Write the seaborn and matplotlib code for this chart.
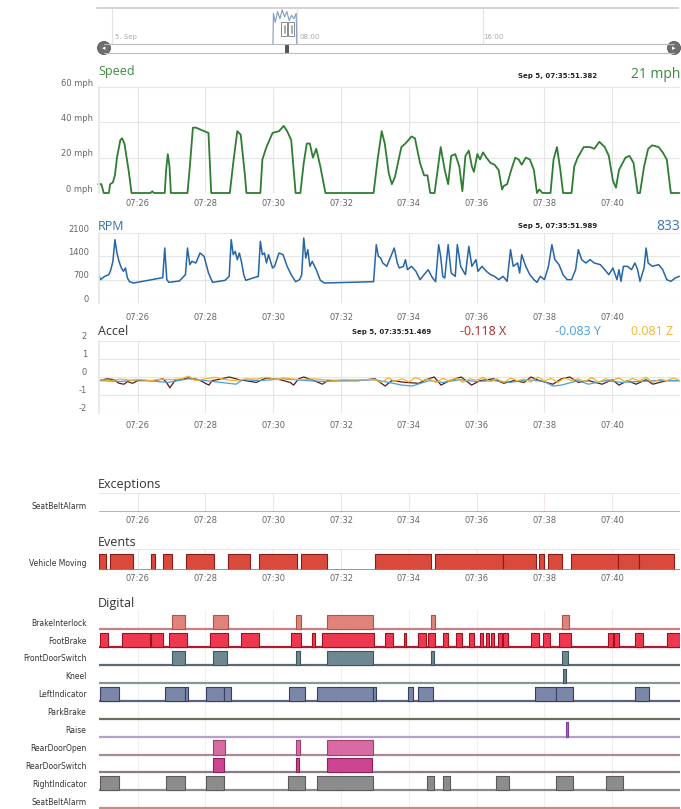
"""
Vehicle trip dashboard: speed, RPM, accelerometer plus event / digital input timelines.
Run: python plot.py
"""

import matplotlib
matplotlib.use("Agg")
import matplotlib.pyplot as plt
import matplotlib.transforms as mtransforms
from matplotlib.patches import Rectangle, Circle
import pandas as pd
import seaborn as sns

OUT = "out.png"
W, H = 681, 809

# time axis, minutes after 07:00 on Sep 5
T_MIN, T_MAX = 24.86, 42.0
TICK_MIN = [26, 28, 30, 32, 34, 36, 38, 40]
TICK_TEXT = ["07:26", "07:28", "07:30", "07:32", "07:34", "07:36", "07:38", "07:40"]

SPEED_T = [
    24.84, 24.93, 25.00, 25.15, 25.19, 25.27, 25.33, 25.39, 25.49, 25.54,
    25.61, 25.74, 25.82, 26.38, 26.43, 26.48, 26.80, 26.84, 26.89, 26.94,
    26.98, 27.47, 27.54, 27.63, 27.72, 27.96, 28.09, 28.17, 28.72, 28.82,
    28.94, 29.04, 29.16, 29.21, 29.62, 29.68, 29.80, 29.98, 30.17, 30.31,
    30.41, 30.53, 30.66, 30.80, 30.90, 30.99, 31.08, 31.17, 31.27, 31.39,
    31.54, 32.96, 33.08, 33.20, 33.29, 33.41, 33.50, 33.59, 33.78, 33.90,
    34.08, 34.18, 34.33, 34.45, 34.55, 34.63, 34.76, 34.94, 35.06, 35.16,
    35.25, 35.37, 35.49, 35.58, 35.67, 35.77, 35.86, 35.92, 36.02, 36.10,
    36.19, 36.29, 36.41, 36.53, 36.65, 36.75, 36.80, 36.90, 37.02, 37.14,
    37.24, 37.33, 37.45, 37.57, 37.69, 37.78, 37.85, 37.94, 38.18, 38.27,
    38.37, 38.47, 38.55, 38.80, 38.88, 38.98, 39.16, 39.35, 39.47, 39.62,
    39.78, 39.90, 40.02, 40.11, 40.20, 40.39, 40.51, 40.63, 40.75, 40.82,
    40.94, 41.06, 41.18, 41.37, 41.49, 41.61, 41.73, 41.98,
]
SPEED_MPH = [
    5, 5, 0, 0, 5, 6, 10, 20, 30, 31,
    28, 12, 0, 0, 1, 0, 0, 13, 22, 15,
    0, 0, 15, 37, 37, 35, 34, 0, 0, 17,
    35, 33, 11, 0, 0, 19, 26, 34, 35, 38,
    35, 30, 0, 0, 17, 28, 28, 20, 25, 15,
    0, 0, 19, 35, 28, 11, 5, 9, 26, 28,
    32, 31, 17, 10, 10, 0, 0, 26, 13, 5,
    21, 22, 15, 1, 21, 24, 15, 12, 22, 19,
    23, 20, 17, 16, 13, 2, 4, 5, 13, 20,
    19, 16, 20, 19, 13, 0, 2, 0, 0, 19,
    26, 13, 0, 0, 15, 20, 26, 26, 25, 29,
    26, 21, 7, 3, 13, 20, 21, 17, 0, 0,
    15, 25, 27, 26, 23, 19, 0, 0,
]

RPM_T = [
    24.84, 24.90, 25.03, 25.15, 25.21, 25.27, 25.33, 25.39, 25.45, 25.52,
    25.58, 25.64, 25.70, 25.76, 25.88, 26.74, 26.80, 26.86, 26.92, 27.23,
    27.41, 27.47, 27.54, 27.60, 27.72, 27.84, 27.96, 28.09, 28.21, 28.58,
    28.70, 28.76, 28.82, 28.88, 28.94, 29.00, 29.07, 29.13, 29.19, 29.31,
    29.56, 29.62, 29.68, 29.74, 29.80, 29.86, 29.92, 29.98, 30.04, 30.17,
    30.29, 30.41, 30.53, 30.66, 30.78, 30.84, 30.90, 30.96, 31.02, 31.08,
    31.15, 31.27, 31.39, 31.51, 32.96, 33.04, 33.10, 33.17, 33.23, 33.35,
    33.47, 33.57, 33.66, 33.72, 33.84, 33.90, 33.96, 34.08, 34.21, 34.33,
    34.45, 34.57, 34.70, 34.79, 34.88, 34.94, 35.00, 35.06, 35.16, 35.25,
    35.37, 35.43, 35.53, 35.61, 35.67, 35.77, 35.86, 35.98, 36.04, 36.16,
    36.29, 36.41, 36.53, 36.65, 36.78, 36.90, 37.00, 37.08, 37.21, 37.27,
    37.33, 37.45, 37.57, 37.69, 37.78, 37.88, 38.00, 38.12, 38.22, 38.31,
    38.43, 38.55, 38.67, 38.80, 38.92, 39.00, 39.10, 39.22, 39.35, 39.47,
    39.65, 39.78, 39.90, 40.02, 40.14, 40.20, 40.26, 40.33, 40.45, 40.57,
    40.67, 40.75, 40.82, 40.94, 41.00, 41.06, 41.18, 41.37, 41.49, 41.61,
    41.73, 41.86, 41.98,
]
RPM_VAL = [
    900, 700, 800, 850, 1000, 1250, 1900, 1500, 1250, 1050,
    950, 1050, 750, 640, 600, 760, 1650, 700, 620, 660,
    850, 1650, 1150, 1250, 1200, 1500, 1400, 900, 620, 680,
    800, 1900, 1450, 1550, 1300, 1500, 1200, 850, 680, 720,
    800, 1850, 1450, 1500, 1200, 1450, 1250, 1050, 1100, 1500,
    1450, 1100, 850, 640, 700, 850, 1950, 1350, 1600, 1100,
    1250, 1000, 680, 600, 640, 1750, 1400, 1350, 1200, 1100,
    1400, 1650, 1200, 1050, 1100, 1300, 1000, 1100, 950, 700,
    850, 1000, 750, 640, 1750, 1400, 800, 750, 1750, 900,
    800, 1750, 1100, 950, 850, 1700, 1100, 1300, 950, 1100,
    950, 850, 800, 700, 800, 650, 1600, 1100, 1200, 900,
    1450, 1100, 850, 700, 620, 800, 700, 1100, 1750, 1300,
    1150, 850, 700, 700, 1000, 1600, 1300, 1200, 1300, 1200,
    1150, 1000, 850, 1050, 700, 1000, 650, 1100, 1100, 1000,
    1200, 1000, 650, 1050, 1650, 1200, 1100, 1150, 1000, 700,
    650, 750, 800,
]

ACC_X_T = [
    24.86, 25.1, 25.3, 25.45, 25.6, 25.7, 25.85, 26.0,
    26.5, 26.75, 26.85, 26.95, 27.1, 27.5, 27.8, 28.1,
    28.2, 28.35, 28.7, 29.0, 29.5, 29.8, 30.2, 30.5,
    30.6, 30.75, 30.9, 31.2, 31.45, 31.6, 32.0, 32.5,
    33.0, 33.3, 33.5, 33.9, 34.3, 34.5, 34.75, 34.95,
    35.2, 35.55, 35.85, 36.1, 36.5, 36.8, 37.1, 37.4,
    37.6, 37.85, 38.25, 38.5, 38.75, 39.0, 39.3, 39.7,
    40.0, 40.2, 40.45, 40.7, 41.0, 41.2, 41.6, 42.0,
]
ACC_X = [
    -0.2, -0.1, -0.15, -0.35, -0.4, -0.25, -0.35, -0.2,
    -0.2, -0.1, -0.3, -0.6, -0.2, -0.05, -0.15, -0.45,
    -0.2, -0.15, 0.0, -0.15, -0.3, -0.05, -0.15, -0.3,
    -0.45, -0.1, 0.0, -0.2, -0.4, -0.2, -0.2, -0.2,
    -0.1, -0.5, -0.2, -0.3, -0.35, -0.15, 0.0, -0.45,
    -0.2, 0.0, -0.45, -0.2, -0.1, -0.35, -0.2, -0.3,
    0.0, -0.2, -0.4, -0.1, 0.0, -0.3, -0.2, -0.4,
    -0.15, -0.45, -0.2, -0.4, -0.15, -0.4, -0.2, -0.2,
]
ACC_Y_T = [
    24.86, 25.5, 26.0, 26.9, 27.5, 28.0, 28.9, 29.1, 29.6, 30.3,
    31.0, 31.5, 32.0, 32.5, 33.0, 33.4, 33.8, 34.1, 34.6, 35.0,
    35.5, 36.0, 36.5, 37.0, 37.5, 38.0, 38.25, 38.5, 39.0, 39.3,
    39.8, 40.3, 40.8, 41.3, 42.0,
]
ACC_Y = [
    -0.2, -0.25, -0.15, -0.3, -0.1, -0.2, -0.4, -0.15, -0.2, -0.1,
    -0.2, -0.25, -0.2, -0.2, -0.15, -0.3, -0.45, -0.5, -0.2, -0.3,
    -0.15, -0.25, -0.2, -0.3, -0.15, -0.25, -0.5, -0.45, -0.2, -0.4,
    -0.2, -0.3, -0.25, -0.2, -0.2,
]
ACC_Z_T = [
    24.9, 25.2, 25.5, 25.8, 26.1, 26.4, 26.7, 27.0, 27.3, 27.5,
    27.7, 28.0, 28.3, 28.6, 28.9, 29.2, 29.5, 29.8, 30.1, 30.3,
    30.6, 30.9, 31.2, 31.5, 31.8, 32.1, 32.4, 32.7,
    33.0, 33.2, 33.4, 33.6, 33.8, 34.0, 34.2, 34.4, 34.6, 34.8,
    35.0, 35.2, 35.4, 35.6, 35.8, 36.0, 36.2, 36.4, 36.6, 36.8,
    37.0, 37.2, 37.4, 37.6, 37.8, 38.0, 38.2, 38.4, 38.6, 38.8,
    39.0, 39.2, 39.4, 39.6, 39.8, 40.0, 40.2, 40.4, 40.6, 40.8,
    41.0, 41.2, 41.4, 41.6, 41.8, 42.0,
]
ACC_Z = [
    -0.15, -0.2, -0.12, -0.18, -0.15, -0.2, -0.12, -0.15, -0.1, 0.05,
    -0.2, -0.1, -0.02, -0.15, -0.2, -0.1, -0.12, -0.02, -0.15, -0.05,
    -0.12, -0.15, -0.1, -0.15, -0.18, -0.15, -0.16, -0.15,
    -0.15, -0.3, -0.05, -0.25, -0.1, -0.28, -0.02, -0.2, -0.12, -0.3,
    -0.08, -0.22, -0.05, -0.3, -0.1, -0.18, -0.02, -0.26, -0.1, -0.3,
    -0.06, -0.2, -0.12, -0.28, 0.0, -0.22, -0.08, -0.3, -0.04, -0.2,
    -0.1, -0.26, -0.02, -0.3, -0.1, -0.18, -0.05, -0.28, -0.08, -0.22,
    -0.02, -0.3, -0.12, -0.2, -0.06, -0.2,
]

# navigator overview: hours of the day vs relative level
NAV_HOURS = [6.95, 6.97, 7.05, 7.15, 7.25, 7.35, 7.45, 7.55, 7.65, 7.75, 7.85, 7.95, 7.98]
NAV_LEVEL = [0.0, 0.85, 0.6, 0.9, 0.7, 0.95, 0.75, 0.9, 0.65, 0.8, 0.7, 0.85, 0.0]

# on/off intervals (start, end) in minutes after 07:00
SEATBELT_EXC = []
VEHICLE_MOVING = [
    (24.86, 25.06), (25.17, 25.85), (26.39, 26.50), (26.76, 27.02), (27.42, 28.25),
    (28.68, 29.30), (29.58, 30.70), (30.83, 31.58), (32.99, 34.66), (34.76, 36.78),
    (36.78, 37.74), (37.84, 37.98), (38.12, 38.53), (38.78, 40.18), (40.18, 40.79),
    (40.79, 41.82),
]
BRAKE_INTERLOCK = [(27.00, 27.39), (28.22, 28.67), (30.66, 30.81), (31.58, 32.94),
                   (34.64, 34.76), (38.51, 38.74)]
FOOT_BRAKE = [
    (24.89, 25.14), (25.53, 26.36), (26.40, 26.75), (26.92, 27.45), (28.12, 28.67),
    (29.06, 29.59), (30.53, 30.81), (31.15, 31.22), (31.43, 32.97), (33.29, 33.52),
    (33.87, 33.93), (34.28, 34.51), (34.57, 34.76), (35.02, 35.17), (35.40, 35.56),
    (35.79, 35.92), (36.11, 36.20), (36.28, 36.37), (36.43, 36.50), (36.62, 36.75),
    (36.79, 36.92), (37.61, 37.84), (37.97, 38.16), (38.42, 38.77), (39.89, 40.02),
    (40.05, 40.21), (40.66, 40.92), (41.62, 42.00),
]
FRONT_DOOR_SWITCH = [(27.00, 27.39), (28.22, 28.65), (30.66, 30.79), (31.58, 32.94),
                     (34.64, 34.74), (38.52, 38.71)]
KNEEL = [(38.55, 38.65)]
LEFT_INDICATOR = [
    (24.89, 25.46), (26.81, 27.39), (27.39, 27.48), (28.03, 28.54), (28.54, 28.76),
    (30.47, 30.95), (31.30, 32.94), (32.94, 33.03), (33.97, 34.12), (34.28, 34.72),
    (37.71, 38.33), (38.33, 38.84), (40.66, 41.09),
]
PARK_BRAKE = []
RAISE = [(38.65, 38.71)]
REAR_DOOR_OPEN = [(28.22, 28.58), (30.66, 30.79), (31.58, 32.94)]
REAR_DOOR_SWITCH = [(28.22, 28.54), (30.66, 30.76), (31.58, 32.90)]
RIGHT_INDICATOR = [
    (24.89, 25.46), (26.85, 27.39), (28.03, 28.54), (30.44, 30.95), (31.30, 32.94),
    (34.55, 34.74), (35.02, 35.21), (36.56, 36.97), (38.33, 38.84), (39.83, 40.32),
]
SEATBELT_ALARM = []

DIGITAL_NAMES = ["BrakeInterlock", "FootBrake", "FrontDoorSwitch", "Kneel", "LeftIndicator",
                 "ParkBrake", "Raise", "RearDoorOpen", "RearDoorSwitch", "RightIndicator",
                 "SeatBeltAlarm"]
DIGITAL_DATA = [BRAKE_INTERLOCK, FOOT_BRAKE, FRONT_DOOR_SWITCH, KNEEL, LEFT_INDICATOR,
                PARK_BRAKE, RAISE, REAR_DOOR_OPEN, REAR_DOOR_SWITCH, RIGHT_INDICATOR,
                SEATBELT_ALARM]
# (face, edge, baseline)
DIGITAL_COLORS = [
    ("#e0837a", "#b0524a", "#c98080"),
    ("#ee3850", "#a0101e", "#b01c2c"),
    ("#6f8790", "#3e5660", "#5a6a72"),
    ("#6a8288", "#3e5660", "#8a9598"),
    ("#7c86a8", "#363f66", "#5a6288"),
    ("#777777", "#555555", "#6e6e60"),
    ("#a067c0", "#8040a0", "#b8a0cc"),
    ("#d86ca2", "#a0406e", "#a88a98"),
    ("#cc4590", "#90205a", "#8a7a88"),
    ("#8c8c8c", "#5a5a5a", "#8a8a8a"),
    ("#c98a8a", "#c98a8a", "#c98a8a"),
]

GRID = "#e6e6e6"
LABEL = "#666666"
TITLE_FONT = ["Open Sans", "DejaVu Sans"]


def px_axes(fig, left, top, right, bottom):
    return fig.add_axes([left / W, 1 - bottom / H, (right - left) / W, (bottom - top) / H])


def ptext(fig, x, y, s, **kw):
    kw.setdefault("va", "center")
    fig.text(x / W, 1 - y / H, s, **kw)


def time_axis(ax, pad, labels=True, grid=GRID):
    ax.set_xlim(T_MIN, T_MAX)
    ax.set_xticks(TICK_MIN)
    ax.set_xticklabels(TICK_TEXT if labels else [])
    ax.tick_params(axis="x", length=0, pad=pad, labelsize=6, labelcolor=LABEL)
    ax.xaxis.grid(True, color=grid, lw=0.8)
    ax.set_axisbelow(True)
    ax.set_xlabel("")
    ax.set_ylabel("")
    for s in ax.spines.values():
        s.set_visible(False)


def value_axis(fig, ax, ticks, texts, gap):
    ax.set_yticks(ticks)
    ax.yaxis.set_ticklabels([])
    ax.tick_params(axis="y", length=0)
    ax.yaxis.grid(True, color=GRID, lw=0.8)
    ax.spines["left"].set_visible(True)
    ax.spines["left"].set_color(GRID)
    tr = mtransforms.blended_transform_factory(ax.transAxes, ax.transData)
    off = mtransforms.ScaledTranslation(-gap / 100, 4 / 100, fig.dpi_scale_trans)
    for v, s in zip(ticks, texts):
        ax.text(0, v, s, transform=tr + off, ha="right", va="center",
                fontsize=6, color=LABEL)


def main():
    sns.set_theme(style="white")
    plt.rcParams["font.family"] = ["DejaVu Sans"]

    fig = plt.figure(figsize=(W / 100, H / 100), dpi=100)

    # ---- navigator strip
    ax = px_axes(fig, 97, 8, 678, 44)
    sns.lineplot(x=NAV_HOURS, y=NAV_LEVEL, ax=ax, color="#7d9cc4", lw=0.8)
    ax.set_xlim(-0.63, 24.4)
    ax.set_ylim(0, 1.0)
    for h in [0, 8, 16]:
        ax.axvline(h, color="#e2e2e2", lw=0.8, zorder=0)
    ax.set_xticks([])
    ax.set_yticks([])
    ax.set_xlabel("")
    ax.set_ylabel("")
    for s in ax.spines.values():
        s.set_visible(False)
    ax.spines["top"].set_visible(True)
    ax.spines["top"].set_color("#cccccc")
    ax.spines["top"].set_linewidth(1.2)
    ptext(fig, 115, 37, "5. Sep", fontsize=5, color="#aaaaaa", ha="left")
    ptext(fig, 300, 37, "08:00", fontsize=5, color="#aaaaaa", ha="left")
    ptext(fig, 483, 37, "16:00", fontsize=5, color="#aaaaaa", ha="left")

    # ---- speed
    ax = px_axes(fig, 99, 87, 680, 193)
    sns.lineplot(x=SPEED_T, y=SPEED_MPH, ax=ax, color="#2e7d32", lw=1.3)
    ax.lines[-1].set_clip_on(False)
    ax.set_ylim(0, 60)
    time_axis(ax, pad=4.5)
    value_axis(fig, ax, [0, 20, 40, 60], ["0 mph", "20 mph", "40 mph", "60 mph"], 6)
    ptext(fig, 98, 72, "Speed", fontsize=9, color="#3d8b3d", family=TITLE_FONT)
    ptext(fig, 558, 76, "Sep 5, 07:35:51.382", fontsize=5, weight="bold",
          color="#222222", ha="center")
    ptext(fig, 680, 74, "21 mph", fontsize=10, color="#3d8b3d", ha="right", family=TITLE_FONT)

    # ---- rpm
    ax = px_axes(fig, 99, 233, 680, 303)
    sns.lineplot(x=RPM_T, y=RPM_VAL, ax=ax, color="#2566a8", lw=1.1)
    ax.set_ylim(0, 2100)
    time_axis(ax, pad=7)
    value_axis(fig, ax, [0, 700, 1400, 2100], ["0", "700", "1400", "2100"], 10)
    ptext(fig, 98, 227, "RPM", fontsize=9, color="#2f6db4", family=TITLE_FONT)
    ptext(fig, 558, 226, "Sep 5, 07:35:51.989", fontsize=5, weight="bold",
          color="#222222", ha="center")
    ptext(fig, 680, 227, "833", fontsize=10, color="#3a72b8", ha="right", family=TITLE_FONT)

    # ---- accelerometer
    accel = pd.concat([
        pd.DataFrame({"t": ACC_X_T, "g": ACC_X, "axis": "X"}),
        pd.DataFrame({"t": ACC_Y_T, "g": ACC_Y, "axis": "Y"}),
        pd.DataFrame({"t": ACC_Z_T, "g": ACC_Z, "axis": "Z"}),
    ], ignore_index=True)
    ax = px_axes(fig, 99, 341, 680, 413)
    sns.lineplot(data=accel, x="t", y="g", hue="axis", ax=ax, lw=0.9, legend=False,
                 errorbar=None, palette={"X": "#5a1a14", "Y": "#4a9de0", "Z": "#f2b320"})
    ax.set_ylim(-2, 2)
    time_axis(ax, pad=6)
    value_axis(fig, ax, [-2, -1, 0, 1, 2], ["-2", "-1", "0", "1", "2"], 12)
    ptext(fig, 98, 332, "Accel", fontsize=9, color="#333333", family=TITLE_FONT)
    ptext(fig, 392, 332, "Sep 5, 07:35:51.469", fontsize=5, weight="bold",
          color="#222222", ha="center")
    ptext(fig, 483, 332, "-0.118 X", fontsize=9, color="#a52a2a", ha="center", family=TITLE_FONT)
    ptext(fig, 578, 332, "-0.083 Y", fontsize=9, color="#4a9de0", ha="center", family=TITLE_FONT)
    ptext(fig, 652, 332, "0.081 Z", fontsize=9, color="#f2b530", ha="center", family=TITLE_FONT)

    # ---- exceptions
    ax = px_axes(fig, 99, 493, 680, 512)
    ax.broken_barh([(s, e - s) for s, e in SEATBELT_EXC], (0, 0.76),
                   facecolor="#d94a3d", edgecolor="#8c1c13")
    ax.set_ylim(0, 1)
    time_axis(ax, pad=3, grid="#efe6e6")
    ax.axhline(1, color="#eee4e4", lw=0.8)
    ax.axhline(0, color="#c98a8a", lw=1.8)
    ax.set_yticks([0.35])
    ax.set_yticklabels(["SeatBeltAlarm"])
    ax.tick_params(axis="y", length=0, pad=9, labelsize=5.5, labelcolor="#333333")
    ptext(fig, 98, 484, "Exceptions", fontsize=9, color="#333333", family=TITLE_FONT)

    # ---- events
    ax = px_axes(fig, 99, 549, 680, 570)
    ax.broken_barh([(s, e - s) for s, e in VEHICLE_MOVING], (0, 0.76),
                   facecolor="#d94a3d", edgecolor="#8c1c13", lw=0.8)
    ax.set_ylim(0, 1)
    time_axis(ax, pad=3, grid="#efe6e6")
    ax.axhline(1, color="#eee4e4", lw=0.8)
    ax.axhline(0, color="#b87070", lw=1.2)
    ax.set_yticks([0.38])
    ax.set_yticklabels(["Vehicle Moving"])
    ax.tick_params(axis="y", length=0, pad=9, labelsize=5.5, labelcolor="#333333")
    ptext(fig, 98, 542, "Events", fontsize=9, color="#333333", family=TITLE_FONT)

    # ---- digital inputs
    ax = px_axes(fig, 99, 610, 680, 809)
    for i, (intervals, (face, edge, base)) in enumerate(zip(DIGITAL_DATA, DIGITAL_COLORS)):
        ax.hlines(i + 0.4, T_MIN, T_MAX, colors=base, lw=1.6, zorder=2)
        if intervals:
            ax.broken_barh([(s, e - s) for s, e in intervals], (i - 0.4, 0.8),
                           facecolor=face, edgecolor=edge, lw=0.8, zorder=3)
    ax.set_ylim(10.44, -0.68)
    time_axis(ax, pad=3, labels=False, grid="#f0eeee")
    ax.set_yticks(range(len(DIGITAL_NAMES)))
    ax.set_yticklabels(DIGITAL_NAMES)
    ax.tick_params(axis="y", length=0, pad=9, labelsize=5.5, labelcolor="#333333")
    ptext(fig, 98, 604, "Digital", fontsize=9, color="#333333", family=TITLE_FONT)

    # ---- navigator scrollbar and handles (decoration in pixel space)
    ov = fig.add_axes([0, 0, 1, 1], zorder=10)
    ov.set_xlim(0, W)
    ov.set_ylim(H, 0)
    ov.axis("off")
    ov.patch.set_alpha(0)
    ov.plot([104, 674], [43.5, 43.5], color="#bbbbbb", lw=0.8)
    ov.plot([104, 674], [52.5, 52.5], color="#bbbbbb", lw=0.8)
    for cx, arrow in [(104, "\u25c2"), (674, "\u25b8")]:
        ov.add_patch(Circle((cx, 48), 6.5, facecolor="#6e6e6e", edgecolor="#555555", lw=0.6))
        ov.text(cx, 48, arrow, color="white", fontsize=5, ha="center", va="center")
    ov.add_patch(Rectangle((285, 43.5), 4, 9, facecolor="#555555", edgecolor="none"))
    for hx in [281, 288]:
        ov.add_patch(Rectangle((hx, 22), 6, 14, facecolor="white", edgecolor="#8a8a8a", lw=0.7))
        ov.plot([hx + 2.5, hx + 2.5], [25, 33], color="#8a8a8a", lw=0.5)
        ov.plot([hx + 3.5, hx + 3.5], [25, 33], color="#8a8a8a", lw=0.5)

    fig.savefig(OUT, dpi=100)
    plt.close(fig)


if __name__ == "__main__":
    main()
